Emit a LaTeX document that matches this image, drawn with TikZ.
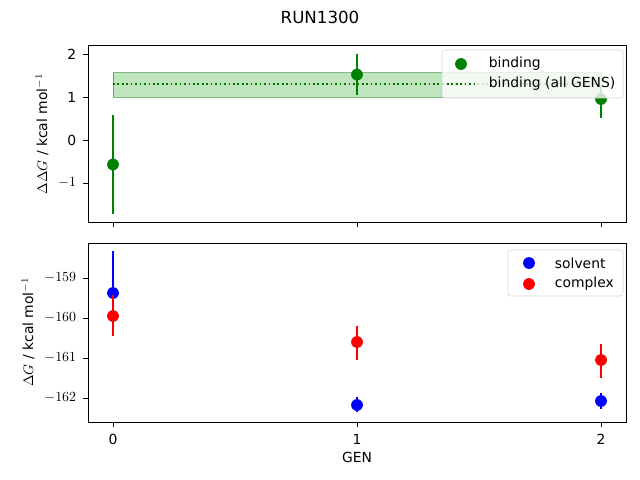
\documentclass[tikz,border=0pt]{standalone}
\usepackage{fontspec}
\setmainfont{DejaVu Sans}
\usetikzlibrary{positioning}
\tikzset{
  pt/.style={circle,inner sep=0pt,minimum size=8.5pt},
  tick/.style={font=\fontsize{10}{12}\selectfont},
  err/.style={line width=1.1pt},
  frame/.style={line width=0.6pt}
}
\begin{document}
\begin{tikzpicture}[x=0.72pt,y=-0.72pt]
\useasboundingbox (0,0) rectangle (640,480);
\node[tick] (title) at (320,17) {\fontsize{12}{14}\selectfont RUN1300};
% top panel
\fill[green!60!black,opacity=0.25] (113,72.5) rectangle (601,97);
\draw[green!45!black,opacity=0.5] (113,72.5) rectangle (601,97);
\draw[green!45!black,dotted,line width=1.2pt] (113,84) -- (601,84);
\draw[err,green!50!black] (113,115) -- (113,214);
\draw[err,green!50!black] (357,54) -- (357,95);
\draw[err,green!50!black] (601,86) -- (601,118);
\node[pt,fill=green!50!black] (b0) at (113,164.5) {};
\node[pt,fill=green!50!black] (b1) at (357,74.6) {};
\node[pt,fill=green!50!black] (b2) at (601,99) {};
\draw[frame] (88,45) rectangle (626,222);
\foreach \v/\y/\l in {2/54/2,1/97/1,0/140/0,-1/183/$-1$} {
  \draw[frame] (88,\y) -- (83,\y);
  \node[tick,anchor=east] at (81,\y) {\l};
}
\foreach \x in {113,357,601} \draw[frame] (\x,222) -- (\x,227);
\node[tick,rotate=90] (ylt) at (42,134) {$\Delta\Delta G$ / kcal mol$^{-1}$};
\draw[gray!40,fill=white,opacity=0.8,rounded corners=2pt] (442,50) rectangle (623,98);
\node[pt,fill=green!50!black] (lb) at (461,64) {};
\node[tick,anchor=west] at (484,64) {binding};
\draw[green!45!black,dotted,line width=1.2pt] (447,84) -- (475,84);
\node[tick,anchor=west] at (484,84) {binding (all GENS)};
% bottom panel
\draw[err,blue] (113,251) -- (113,335);
\draw[err,blue] (357,397) -- (357,412);
\draw[err,blue] (601,393) -- (601,409);
\node[pt,fill=blue] (s0) at (113,293) {};
\node[pt,fill=blue] (s1) at (357,405) {};
\node[pt,fill=blue] (s2) at (601,401) {};
\draw[err,red] (113,295) -- (113,336);
\draw[err,red] (357,326) -- (357,360);
\draw[err,red] (601,344) -- (601,378);
\node[pt,fill=red] (c0) at (113,316) {};
\node[pt,fill=red] (c1) at (357,342) {};
\node[pt,fill=red] (c2) at (601,360) {};
\draw[frame] (88,243) rectangle (626,422);
\foreach \y/\l in {278/$-159$,318/$-160$,358/$-161$,398/$-162$} {
  \draw[frame] (88,\y) -- (83,\y);
  \node[tick,anchor=east] at (81,\y) {\l};
}
\foreach \x/\l in {113/0,357/1,601/2} {
  \draw[frame] (\x,422) -- (\x,427);
  \node[tick,anchor=north] at (\x,429) {\l};
}
\node[tick] (xl) at (357,457) {GEN};
\node[tick,rotate=90] (ylb) at (28,332) {$\Delta G$ / kcal mol$^{-1}$};
\draw[gray!40,fill=white,opacity=0.8,rounded corners=2pt] (508,250) rectangle (623,296);
\node[pt,fill=blue] (ls) at (529,263) {};
\node[tick,anchor=west] at (550,263) {solvent};
\node[pt,fill=red] (lc) at (529,284) {};
\node[tick,anchor=west] at (550,284) {complex};
\end{tikzpicture}
\end{document}
